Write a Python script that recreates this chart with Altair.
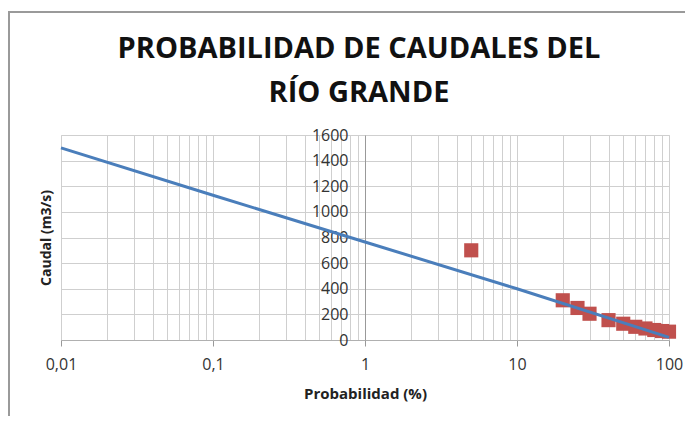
import altair as alt
import pandas as pd

# ---- data ----
line_prob = [0.01, 0.1, 1, 10, 100]
line_caudal = [1500, 1130, 765, 400, 20]

obs_prob = [5, 20, 25, 30, 40, 50, 60, 70, 80, 90, 100]
obs_caudal = [700, 310, 250, 205, 155, 127, 103, 90, 78, 70, 65]

x_grid_values = [0.01, 0.02, 0.03, 0.04, 0.05, 0.06, 0.07, 0.08, 0.09,
                 0.1, 0.2, 0.3, 0.4, 0.5, 0.6, 0.7, 0.8, 0.9,
                 1, 2, 3, 4, 5, 6, 7, 8, 9,
                 10, 20, 30, 40, 50, 60, 70, 80, 90, 100]
x_major = [0.01, 0.1, 1, 10, 100]
x_major_labels = ["0,01", "0,1", "1", "10", "100"]
y_ticks = [0, 200, 400, 600, 800, 1000, 1200, 1400, 1600]

title_lines = ["PROBABILIDAD DE CAUDALES DEL", "RÍO GRANDE"]
x_title = "Probabilidad  (%)"
y_title = "Caudal (m3/s)"

W, H = 608, 205
FONT = "Open Sans"

line_df = pd.DataFrame({"p": line_prob, "q": line_caudal})
obs_df = pd.DataFrame({"p": obs_prob, "q": obs_caudal})

label_expr = " : ".join(
    f"datum.value == {v} ? '{l}'" for v, l in zip(x_major, x_major_labels)
) + " : ''"
major_list = "[" + ",".join(str(v) for v in x_major) + "]"

x_scale = alt.Scale(type="log", domain=[0.01, 100], nice=False)
y_scale = alt.Scale(domain=[0, 1600], nice=False)

x_axis = alt.Axis(
    values=x_grid_values,
    tickCount=len(x_grid_values),
    labelExpr=label_expr,
    labelOverlap=False,
    labelFlush=False,
    labelFont=FONT, labelFontSize=16, labelColor="#333333",
    labelPadding=10,
    tickSize=6, tickColor="#999999",
    tickOpacity={"condition": {"test": f"indexof({major_list}, datum.value) >= 0", "value": 1}, "value": 0},
    grid=True, gridColor="#cfcfcf", gridWidth=1,
    domainColor="#b0b0b0",
    title=x_title, titleFont=FONT, titleFontSize=15, titleFontWeight="bold",
    titleColor="#222222", titlePadding=14,
)

y_axis = alt.Axis(
    values=y_ticks,
    tickCount=len(y_ticks),
    format="d",
    labelOverlap=False,
    labelFlush=False,
    offset=-W / 2,
    ticks=False,
    labelFont=FONT, labelFontSize=16, labelColor="#333333",
    labelPadding=17,
    grid=True, gridColor="#cfcfcf", gridWidth=1,
    domainColor="#999999",
    title=y_title, titleFont=FONT, titleFontSize=14, titleFontWeight="bold",
    titleColor="#222222", titleX=-W / 2 - 8,
)

points = alt.Chart(obs_df).mark_point(
    shape="square", filled=True, size=200, color="#C0504D", opacity=1
).encode(
    x=alt.X("p:Q", scale=x_scale, axis=x_axis),
    y=alt.Y("q:Q", scale=y_scale, axis=y_axis),
)

line = alt.Chart(line_df).mark_line(color="#4A7EBB", strokeWidth=3).encode(
    x=alt.X("p:Q", scale=x_scale),
    y=alt.Y("q:Q", scale=y_scale),
)

border = alt.Chart(pd.DataFrame({"a": [0]})).mark_rect(
    filled=False, stroke="#9a9a9a", strokeWidth=2
).encode(
    x=alt.value(-52), x2=alt.value(700),
    y=alt.value(-123), y2=alt.value(420),
)

chart = alt.layer(border, points, line).properties(
    width=W,
    height=H,
    title=alt.TitleParams(
        text=title_lines,
        font=FONT, fontSize=29, fontWeight="bold", color="#111111",
        anchor="middle", frame="group", lineHeight=44, offset=28, dx=-6, dy=125,
    ),
    autosize=alt.AutoSizeParams(type="none"),
    padding={"left": 53, "top": 127, "right": 16, "bottom": 76},
).configure_view(stroke=None).configure(background="white")

chart.save("out.html", embed_options={"renderer": "svg", "actions": False})
